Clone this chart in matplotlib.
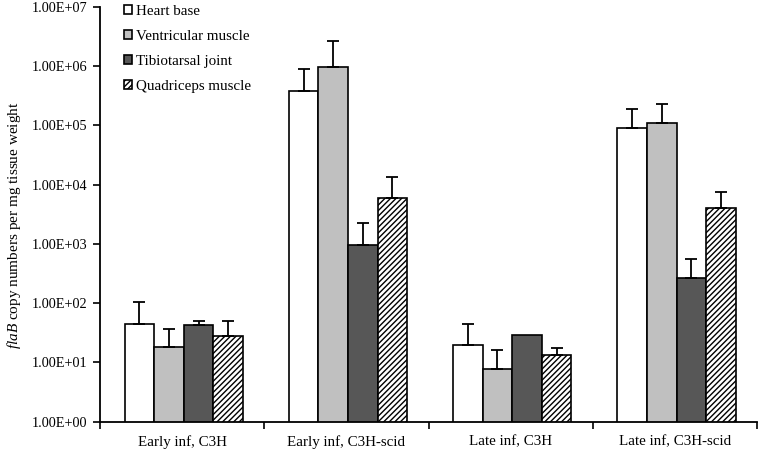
import matplotlib
matplotlib.use("Agg")
import matplotlib.pyplot as plt
import numpy as np
from matplotlib.ticker import FixedLocator, FuncFormatter

plt.rcParams['font.family'] = ['Liberation Serif', 'DejaVu Serif']
plt.rcParams['mathtext.fontset'] = 'custom'
plt.rcParams['mathtext.it'] = 'Liberation Serif:italic'
plt.rcParams['mathtext.rm'] = 'Liberation Serif'
plt.rcParams['hatch.linewidth'] = 1.0

categories = ["Early inf, C3H", "Early inf, C3H-scid", "Late inf, C3H", "Late inf, C3H-scid"]
series = ["Heart base", "Ventricular muscle", "Tibiotarsal joint", "Quadriceps muscle"]

heart_base = [44, 385000, 20, 92000]
heart_base_upper = [105, 900000, 45, 190000]
ventricular = [18, 960000, 7.8, 112000]
ventricular_upper = [37, 2700000, 16, 233000]
tibiotarsal = [43, 970, 29, 270]
tibiotarsal_upper = [51, 2240, 29, 566]
quadriceps = [28.5, 5900, 13.4, 4100]
quadriceps_upper = [51, 13600, 17.8, 7400]

yticks = [1e0, 1e1, 1e2, 1e3, 1e4, 1e5, 1e6, 1e7]

values = [heart_base, ventricular, tibiotarsal, quadriceps]
uppers = [heart_base_upper, ventricular_upper, tibiotarsal_upper, quadriceps_upper]
colors = ['white', '#c0c0c0', '#575757', 'white']
hatches = [None, None, None, '//////']

fig = plt.figure(figsize=(7.6, 4.51), dpi=100)
ax = fig.add_axes([100/760, 1 - 421.7/451, 657/760, 414.7/451])

x = np.arange(len(categories))
w = 0.18
handles = []
for i, (vals, ups) in enumerate(zip(values, uppers)):
    pos = x + (i - 1.5) * w + 0.01
    b = ax.bar(pos, vals, width=w, color=colors[i], edgecolor='black',
               linewidth=1.2, hatch=hatches[i], label=series[i], zorder=2)
    handles.append(b)
    vals_a = np.array(vals, dtype=float)
    ups_a = np.array(ups, dtype=float)
    err = np.vstack([np.zeros_like(vals_a), ups_a - vals_a])
    mask = ups_a > vals_a
    ax.errorbar(pos[mask], vals_a[mask], yerr=err[:, mask], fmt='none',
                ecolor='black', elinewidth=1.3, capsize=4, capthick=1.3, zorder=3)

ax.set_yscale('log')
ax.set_ylim(1, 1e7)
ax.set_xlim(-0.5, 3.5)
ax.yaxis.set_major_locator(FixedLocator(yticks))
ax.yaxis.set_minor_locator(FixedLocator([]))
ax.yaxis.set_major_formatter(FuncFormatter(lambda v, p: "%.2fE+%02d" % (1.00, int(round(np.log10(v))))))

ax.set_xticks(x)
ax.set_xticklabels(categories, fontsize=10.8)
ax.set_xticks([-0.5, 0.5, 1.5, 2.5, 3.5], minor=True)
ax.tick_params(axis='x', which='major', length=0, pad=10)
ax.tick_params(axis='x', which='minor', length=5, width=1.2, direction='out')
ax.tick_params(axis='y', which='major', length=5, width=1.2, direction='out', labelsize=10.3, pad=4)

for s in ['top', 'right']:
    ax.spines[s].set_visible(False)
for s in ['left', 'bottom']:
    ax.spines[s].set_linewidth(1.3)

ax.set_ylabel(r'$\mathit{flaB}$ copy numbers per mg tissue weight', fontsize=11)
ax.yaxis.set_label_coords(-(100 - 23) / 657, 1 - (225 - 7) / 414.7)

leg = fig.legend(handles=handles, labels=series, loc='upper left',
                 bbox_to_anchor=(124/760, 1 - 5/451), bbox_transform=fig.transFigure,
                 frameon=False, fontsize=10.8, handlelength=0.55, handleheight=0.55,
                 handletextpad=0.25, labelspacing=0.8, borderpad=0, borderaxespad=0)

fig.savefig('out.png', dpi=100)
